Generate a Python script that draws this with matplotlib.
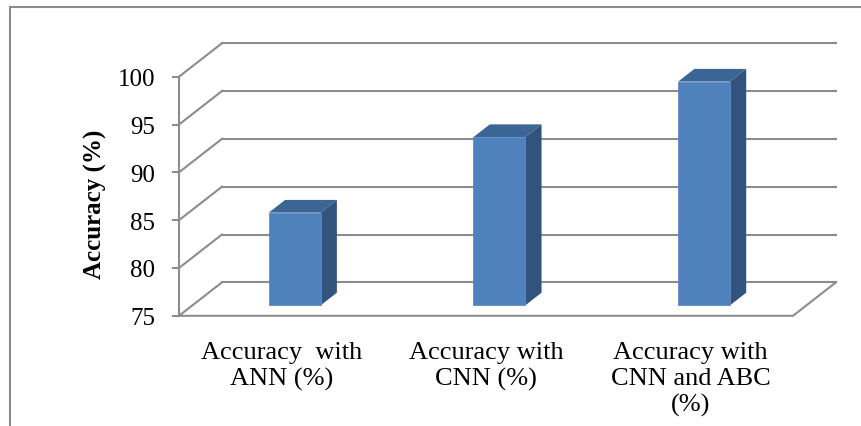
import matplotlib
matplotlib.use("Agg")
import matplotlib.pyplot as plt
from matplotlib.patches import Polygon
from matplotlib.lines import Line2D

# Data
categories = ["Accuracy  with\nANN (%)", "Accuracy with\nCNN (%)", "Accuracy with\nCNN and ABC\n(%)"]
accuracy = [84.7, 92.6, 98.4]
y_ticks = [75, 80, 85, 90, 95, 100]
y_label = "Accuracy (%)"

plt.rcParams["font.family"] = ["Liberation Serif", "DejaVu Serif"]

W, H, DPI = 861, 427, 100
fig = plt.figure(figsize=(W / DPI, H / DPI), dpi=DPI)

# Front plane of the 3-D box
ax = fig.add_axes([179 / W, (H - 316.8) / H, 614 / W, (316.8 - 77.7) / H])
ymin, ymax = y_ticks[0], y_ticks[-1]
ncat = len(categories)
ax.set_xlim(0, ncat)
ax.set_ylim(ymin, ymax)

# Depth offset of the back wall, in data units
DX = 0.210
DY = 3.50
grid_c = "#8C8C8C"
lw = 1.5

# Back wall gridlines and side wall diagonals
for v in y_ticks:
    ax.add_line(Line2D([DX, ncat + DX], [v + DY, v + DY], color=grid_c, lw=lw,
                       clip_on=False, zorder=1))
    ax.add_line(Line2D([0, DX], [v, v + DY], color=grid_c, lw=lw,
                       clip_on=False, zorder=1))

# Floor edges
ax.add_line(Line2D([0, ncat, ncat + DX], [ymin, ymin, ymin + DY], color=grid_c,
                   lw=lw, clip_on=False, zorder=1))

# Spines
for s in ["top", "right", "bottom"]:
    ax.spines[s].set_visible(False)
ax.spines["left"].set_color(grid_c)
ax.spines["left"].set_linewidth(lw)
ax.patch.set_visible(False)

# Bars
front_c = "#4F81BD"
side_c = "#31537C"
top_c = "#3B6595"
bw = 0.253
f0, f1 = 0.31, 0.69
xs = [i + 0.5 for i in range(ncat)]
fx = [x + f0 * DX for x in xs]
ax.bar(fx, [a - ymin for a in accuracy], width=bw, bottom=ymin + f0 * DY,
       color=front_c, edgecolor="#5B8CC6", linewidth=0.6, zorder=5, clip_on=False)
for x, a in zip(fx, accuracy):
    xl, xr = x - bw / 2, x + bw / 2
    ddx, ddy = (f1 - f0) * DX, (f1 - f0) * DY
    b = ymin + f0 * DY
    t = a + f0 * DY
    ax.add_patch(Polygon([(xr, b), (xr + ddx, b + ddy), (xr + ddx, t + ddy), (xr, t)],
                         closed=True, facecolor=side_c, edgecolor="none",
                         zorder=4, clip_on=False))
    ax.add_patch(Polygon([(xl, t), (xr, t), (xr + ddx, t + ddy), (xl + ddx, t + ddy)],
                         closed=True, facecolor=top_c, edgecolor="none",
                         zorder=4, clip_on=False))

# Axes ticks and labels
ax.set_yticks(y_ticks)
ax.set_yticklabels([str(v) for v in y_ticks], fontsize=18)
ax.tick_params(axis="y", length=5, width=lw, color=grid_c, pad=12)
ax.set_xticks(xs)
ax.set_xticklabels(categories, fontsize=19, linespacing=1.22, va="top")
ax.tick_params(axis="x", length=0, pad=18)

fig.text(95 / W, 1 - 204 / H, y_label, rotation=90, ha="center", va="center",
         fontsize=18, fontweight="bold")

# Outer chart border (left and top edges)
fig.add_artist(Line2D([9.5 / W, 9.5 / W], [0, 1 - 8 / H], color="#8C8C8C", lw=1.5,
                      transform=fig.transFigure))
fig.add_artist(Line2D([9.5 / W, 1], [1 - 8 / H, 1 - 8 / H], color="#8C8C8C", lw=1.5,
                      transform=fig.transFigure))

fig.savefig("out.png", dpi=DPI, facecolor="white")
